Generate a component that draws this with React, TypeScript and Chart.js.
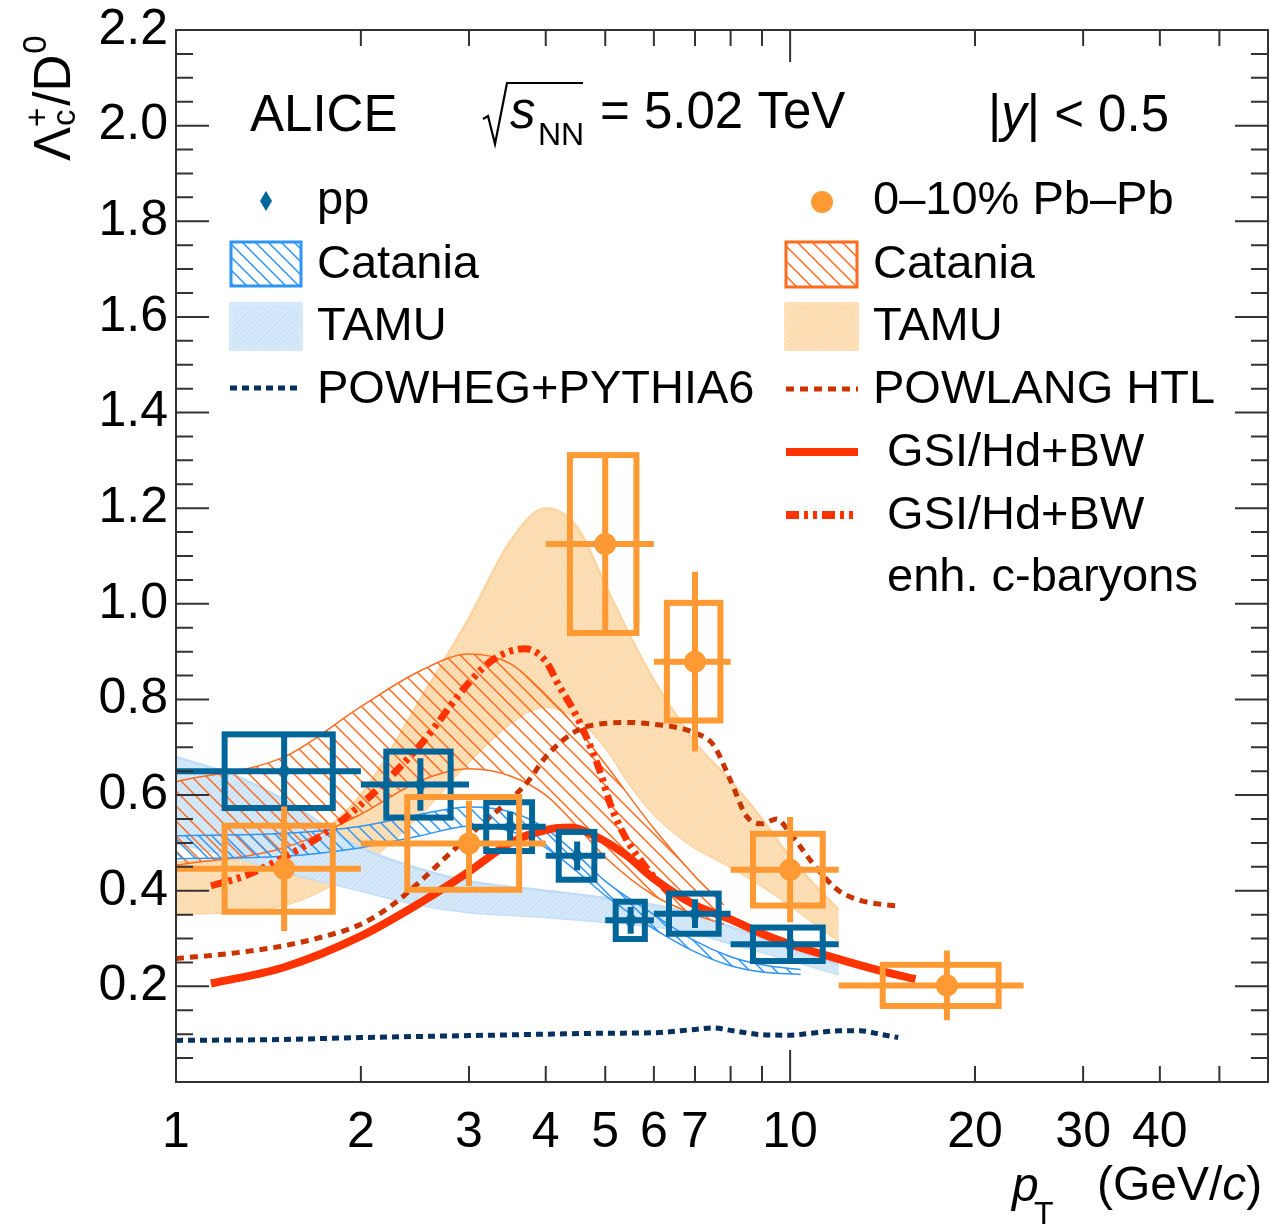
import React, { useEffect, useRef } from 'react';
import { Chart, registerables } from 'chart.js';

Chart.register(...registerables);

const FONT = '"Liberation Sans", Arial, Helvetica, sans-serif';

// ---- axis ticks ----
const xTickValues = [1, 2, 3, 4, 5, 6, 7, 8, 9, 10, 20, 30, 40, 50];
const xLabelValues = [1, 2, 3, 4, 5, 6, 7, 10, 20, 30, 40];
const yTickValues = [0, 0.2, 0.4, 0.6, 0.8, 1.0, 1.2, 1.4, 1.6, 1.8, 2.0, 2.2];

// ---- pp data ----
const ppX = [1.5, 2.5, 3.5, 4.5, 5.5, 7, 10];
const ppXLow = [1, 2, 3, 4, 5, 6, 8];
const ppXHigh = [2, 3, 4, 5, 6, 8, 12];
const ppY = [0.65, 0.622, 0.534, 0.473, 0.338, 0.352, 0.288];
const ppStat = [0.078, 0.055, 0.031, 0.03, 0.028, 0.03, 0.04];
const ppSyst = [0.077, 0.069, 0.051, 0.05, 0.039, 0.042, 0.035];
const ppSystHalfWidth = [0.3, 0.3, 0.3, 0.3, 0.3, 0.65, 1.3];

// ---- 0-10% Pb-Pb data ----
const pbX = [1.5, 3, 5, 7, 10, 18];
const pbXLow = [1, 2, 4, 6, 8, 12];
const pbXHigh = [2, 4, 6, 8, 12, 24];
const pbY = [0.446, 0.499, 1.125, 0.879, 0.444, 0.202];
const pbStat = [0.13, 0.089, 0.19, 0.188, 0.11, 0.073];
const pbSyst = [0.09, 0.097, 0.186, 0.123, 0.075, 0.043];
const pbSystHalfWidth = [0.3, 0.62, 0.62, 0.7, 1.3, 3.85];

// ---- models ----
const catPPX = [1, 1.5, 2, 2.5, 3, 3.5, 4, 4.5, 5, 6, 7, 8, 9, 10.4];
const catPPUp = [0.515, 0.52, 0.535, 0.56, 0.575, 0.565, 0.53, 0.475, 0.42, 0.35, 0.295, 0.262, 0.245, 0.235];
const catPPLo = [0.467, 0.472, 0.49, 0.515, 0.535, 0.525, 0.49, 0.44, 0.39, 0.32, 0.272, 0.243, 0.23, 0.225];

const catPbX = [1, 1.5, 2, 2.5, 3, 3.5, 4, 4.5, 5, 6, 7, 7.8];
const catPbUp = [0.628, 0.68, 0.785, 0.86, 0.895, 0.875, 0.81, 0.74, 0.665, 0.53, 0.43, 0.37];
const catPbLo = [0.453, 0.49, 0.56, 0.63, 0.655, 0.64, 0.6, 0.535, 0.47, 0.39, 0.35, 0.33];

const tamuPPX = [1, 1.25, 1.5, 2, 2.5, 3, 4, 5, 6, 7, 8, 10, 12];
const tamuPPUp = [0.68, 0.64, 0.59, 0.49, 0.445, 0.42, 0.4, 0.385, 0.37, 0.35, 0.325, 0.28, 0.245];
const tamuPPLo = [0.5, 0.47, 0.44, 0.4, 0.37, 0.355, 0.345, 0.335, 0.325, 0.31, 0.29, 0.255, 0.225];

const tamuPbX = [1, 1.5, 2, 2.5, 3, 3.5, 4, 4.5, 5, 5.5, 6, 6.5, 7, 8, 9, 10, 11, 12];
const tamuPbUp = [0.46, 0.48, 0.6, 0.8, 0.97, 1.13, 1.2, 1.16, 1.04, 0.93, 0.84, 0.77, 0.71, 0.63, 0.55, 0.47, 0.41, 0.36];
const tamuPbLo = [0.35, 0.37, 0.45, 0.56, 0.67, 0.75, 0.785, 0.76, 0.7, 0.62, 0.56, 0.52, 0.49, 0.45, 0.41, 0.37, 0.33, 0.295];

const powhegX = [1, 1.5, 2, 3, 4, 5, 6, 7, 7.5, 8, 9, 10, 11, 12, 13, 14, 15];
const powhegY = [0.087, 0.089, 0.093, 0.097, 0.1, 0.102, 0.103, 0.11, 0.113, 0.108, 0.099, 0.098, 0.103, 0.107, 0.107, 0.1, 0.093];

const powlangX = [1, 1.25, 1.5, 1.75, 2, 2.25, 2.5, 2.75, 3, 3.25, 3.5, 3.75, 4, 4.5, 5, 5.5, 6, 6.5, 7, 7.5, 8, 8.5, 9, 9.5, 10, 11, 12, 13, 14, 15];
const powlangY = [0.258, 0.27, 0.285, 0.305, 0.33, 0.37, 0.42, 0.47, 0.515, 0.555, 0.59, 0.63, 0.68, 0.735, 0.75, 0.752, 0.748, 0.742, 0.73, 0.705, 0.63, 0.555, 0.54, 0.55, 0.52, 0.45, 0.4, 0.38, 0.372, 0.368];

const gsiX = [1.14, 1.5, 2, 2.5, 3, 3.5, 4, 4.4, 4.8, 5.4, 6, 7, 8, 9, 10, 12, 14, 16];
const gsiY = [0.206, 0.24, 0.305, 0.375, 0.44, 0.5, 0.527, 0.532, 0.515, 0.475, 0.425, 0.37, 0.34, 0.31, 0.288, 0.257, 0.233, 0.215];

const gsiEnhX = [1.14, 1.3, 1.5, 1.7, 2, 2.5, 3, 3.3, 3.7, 4, 4.2, 4.45, 4.7, 4.9, 5.1, 5.4, 5.85, 6.4];
const gsiEnhY = [0.41, 0.432, 0.47, 0.51, 0.58, 0.705, 0.835, 0.885, 0.906, 0.88, 0.83, 0.775, 0.71, 0.65, 0.58, 0.51, 0.446, 0.39];

// ---- texts ----
const legendLeft = ['pp', 'Catania', 'TAMU', 'POWHEG+PYTHIA6'];
const legendRight = ['0\u201310% Pb\u2013Pb', 'Catania', 'TAMU', 'POWLANG HTL', 'GSI/Hd+BW', 'GSI/Hd+BW', 'enh. c-baryons'];

// ---- colours ----
const C_PP = '#006699';
const C_PB = '#ff9933';
const C_CAT_PP = '#2e95f5';
const C_CAT_PB = '#ff6b1f';
const C_TAMU_PP = '#d5e9fb';
const C_TAMU_PP_L = '#c0ddf8';
const C_TAMU_PB = '#fee0b8';
const C_TAMU_PB_L = '#fdd3a0';
const C_POWHEG = '#06305e';
const C_POWLANG = '#c93400';
const C_GSI = '#ff3300';

const DASH_POWHEG = [7, 5];
const DASH_POWLANG = [8, 6];
const DASH_GSI_ENH = [13, 5, 4, 5, 4, 5];

function f(size: number, italic = false) {
  return `${italic ? 'italic ' : ''}${size}px ${FONT}`;
}

function makeHatch(bg: string | null, line: string, size: number, lw: number, back: boolean) {
  const c = document.createElement('canvas');
  c.width = size;
  c.height = size;
  const g = c.getContext('2d')!;
  if (bg) {
    g.fillStyle = bg;
    g.fillRect(0, 0, size, size);
  }
  g.strokeStyle = line;
  g.lineWidth = lw;
  g.beginPath();
  for (let k = -1; k <= 1; k++) {
    if (back) {
      g.moveTo(-2, -2 + k * size);
      g.lineTo(size + 2, size + 2 + k * size);
    } else {
      g.moveTo(-2, size + 2 + k * size);
      g.lineTo(size + 2, -2 + k * size);
    }
  }
  g.stroke();
  return g.createPattern(c, 'repeat') as CanvasPattern;
}

function drawErrors(chart: any, xs: number[], lo: number[], hi: number[], ys: number[], stat: number[], syst: number[], hw: number[], color: string) {
  const { ctx, scales } = chart;
  const sx = scales.x;
  const sy = scales.y;
  const area = chart.chartArea;
  ctx.save();
  ctx.beginPath();
  ctx.rect(area.left, area.top, area.right - area.left, area.bottom - area.top);
  ctx.clip();
  ctx.strokeStyle = color;
  ctx.lineWidth = 6;
  ctx.lineCap = 'butt';
  for (let i = 0; i < xs.length; i++) {
    const px = sx.getPixelForValue(xs[i]);
    const py = sy.getPixelForValue(ys[i]);
    const bx0 = sx.getPixelForValue(xs[i] - hw[i]);
    const bx1 = sx.getPixelForValue(xs[i] + hw[i]);
    const by0 = sy.getPixelForValue(ys[i] + syst[i]);
    const by1 = sy.getPixelForValue(ys[i] - syst[i]);
    ctx.strokeRect(bx0, by0, bx1 - bx0, by1 - by0);
    ctx.beginPath();
    ctx.moveTo(sx.getPixelForValue(lo[i]), py);
    ctx.lineTo(sx.getPixelForValue(hi[i]), py);
    ctx.moveTo(px, sy.getPixelForValue(ys[i] + stat[i]));
    ctx.lineTo(px, sy.getPixelForValue(ys[i] - stat[i]));
    ctx.stroke();
  }
  ctx.restore();
}

export default function App() {
  const canvasRef = useRef<HTMLCanvasElement | null>(null);

  useEffect(() => {
    const canvas = canvasRef.current;
    if (!canvas) return;

    const catPPPat = makeHatch(null, C_CAT_PP, 13, 1.5, true);
    const catPbPat = makeHatch(null, C_CAT_PB, 15, 1.5, true);
    const tamuPPPat = makeHatch(C_TAMU_PP, C_TAMU_PP_L, 5, 1, false);
    const tamuPbPat = makeHatch(C_TAMU_PB, C_TAMU_PB_L, 5, 1, false);

    const diamond = document.createElement('canvas');
    diamond.width = 14;
    diamond.height = 20;
    {
      const g = diamond.getContext('2d')!;
      g.fillStyle = C_PP;
      g.beginPath();
      g.moveTo(7, 0);
      g.lineTo(13, 10);
      g.lineTo(7, 20);
      g.lineTo(1, 10);
      g.closePath();
      g.fill();
    }

    const pts = (xs: number[], ys: number[]) => xs.map((x, i) => ({ x, y: ys[i] }));
    const lineDs = (label: string, xs: number[], ys: number[], color: string, width: number, dash: number[], order: number) => ({
      label,
      data: pts(xs, ys),
      borderColor: color,
      borderWidth: width,
      borderDash: dash,
      borderCapStyle: 'butt',
      pointRadius: 0,
      fill: false,
      cubicInterpolationMode: 'monotone',
      order,
    });
    const bandUp = (label: string, xs: number[], ys: number[], border: string, bw: number, pattern: CanvasPattern, order: number) => ({
      label,
      data: pts(xs, ys),
      borderColor: border,
      borderWidth: bw,
      backgroundColor: pattern,
      pointRadius: 0,
      fill: '+1',
      cubicInterpolationMode: 'monotone',
      order,
    });
    const bandLo = (label: string, xs: number[], ys: number[], border: string, bw: number, order: number) => ({
      label,
      data: pts(xs, ys),
      borderColor: border,
      borderWidth: bw,
      pointRadius: 0,
      fill: false,
      cubicInterpolationMode: 'monotone',
      order,
    });

    const datasets: any[] = [
      {
        label: 'Pb-Pb',
        data: pts(pbX, pbY),
        showLine: false,
        pointStyle: 'circle',
        pointRadius: 11,
        pointBackgroundColor: C_PB,
        pointBorderWidth: 0,
        order: 0,
      },
      {
        label: 'pp',
        data: pts(ppX, ppY),
        showLine: false,
        pointStyle: diamond,
        pointRadius: 8,
        order: 1,
      },
      lineDs('GSI enh', gsiEnhX, gsiEnhY, C_GSI, 7, DASH_GSI_ENH, 2),
      lineDs('GSI', gsiX, gsiY, C_GSI, 8, [], 2),
      lineDs('POWLANG', powlangX, powlangY, C_POWLANG, 5, DASH_POWLANG, 2),
      lineDs('POWHEG', powhegX, powhegY, C_POWHEG, 5, DASH_POWHEG, 2),
      bandUp('Catania pp', catPPX, catPPUp, C_CAT_PP, 1.5, catPPPat, 4),
      bandLo('Catania pp lo', catPPX, catPPLo, C_CAT_PP, 1.5, 4),
      bandUp('Catania PbPb', catPbX, catPbUp, C_CAT_PB, 1.5, catPbPat, 5),
      bandLo('Catania PbPb lo', catPbX, catPbLo, C_CAT_PB, 1.5, 5),
      bandUp('TAMU pp', tamuPPX, tamuPPUp, C_TAMU_PP_L, 2.5, tamuPPPat, 6),
      bandLo('TAMU pp lo', tamuPPX, tamuPPLo, C_TAMU_PP_L, 2.5, 6),
      bandUp('TAMU PbPb', tamuPbX, tamuPbUp, C_TAMU_PB_L, 2.5, tamuPbPat, 7),
      bandLo('TAMU PbPb lo', tamuPbX, tamuPbLo, C_TAMU_PB_L, 2.5, 7),
    ];

    const errPlugin = {
      id: 'errbars',
      beforeDatasetDraw(chart: any, args: any) {
        if (args.index === 1) {
          drawErrors(chart, ppX, ppXLow, ppXHigh, ppY, ppStat, ppSyst, ppSystHalfWidth, C_PP);
        } else if (args.index === 0) {
          drawErrors(chart, pbX, pbXLow, pbXHigh, pbY, pbStat, pbSyst, pbSystHalfWidth, C_PB);
        }
      },
    };

    const framePlugin = {
      id: 'frame',
      afterDatasetsDraw(chart: any) {
        const { ctx, chartArea, scales } = chart;
        const { left, right, top, bottom } = chartArea;
        ctx.save();
        ctx.strokeStyle = '#333';
        ctx.lineWidth = 2;
        ctx.strokeRect(left, top, right - left, bottom - top);
        ctx.beginPath();
        for (const v of xTickValues) {
          const px = scales.x.getPixelForValue(v);
          const len = v === 1 || v === 10 ? 32 : 16;
          ctx.moveTo(px, bottom);
          ctx.lineTo(px, bottom - len);
          ctx.moveTo(px, top);
          ctx.lineTo(px, top + len);
        }
        for (let k = 0; k <= 44; k++) {
          const py = scales.y.getPixelForValue(k * 0.05);
          const len = k % 4 === 0 ? 33 : 17;
          ctx.moveTo(left, py);
          ctx.lineTo(left + len, py);
          ctx.moveTo(right, py);
          ctx.lineTo(right - len, py);
        }
        ctx.stroke();
        ctx.restore();
      },
    };

    const annotPlugin = {
      id: 'annot',
      afterDraw(chart: any) {
        const ctx = chart.ctx as CanvasRenderingContext2D;
        ctx.save();
        ctx.fillStyle = '#000';
        ctx.strokeStyle = '#000';
        ctx.textAlign = 'left';
        ctx.textBaseline = 'alphabetic';

        // header
        ctx.font = f(51);
        ctx.fillText('ALICE', 250, 131);
        ctx.lineWidth = 2.2;
        ctx.beginPath();
        ctx.moveTo(483, 119);
        ctx.lineTo(488, 116);
        ctx.lineTo(495, 144);
        ctx.lineTo(507, 83);
        ctx.lineTo(583, 83);
        ctx.stroke();
        ctx.font = f(51, true);
        ctx.fillText('s', 510, 128);
        ctx.font = f(32);
        ctx.fillText('NN', 538, 145);
        ctx.font = f(51);
        ctx.fillText('= 5.02 TeV', 600, 128);
        let xx = 988;
        ctx.font = f(51);
        ctx.fillText('|', xx, 131);
        xx += ctx.measureText('|').width;
        ctx.font = f(51, true);
        ctx.fillText('y', xx, 131);
        xx += ctx.measureText('y').width;
        ctx.font = f(51);
        ctx.fillText('| < 0.5', xx, 131);

        // legend texts
        const baselines = [214, 278, 340, 403, 466, 529, 591];
        ctx.font = f(47);
        legendLeft.forEach((t, i) => ctx.fillText(t, 317, baselines[i]));
        legendRight.forEach((t, i) => ctx.fillText(t, i >= 4 ? 887 : 873, baselines[i]));

        // legend symbols - left
        ctx.drawImage(diamond, 266 - 7, 201 - 10);
        ctx.fillStyle = catPPPat;
        ctx.fillRect(231, 242, 70, 44);
        ctx.lineWidth = 3;
        ctx.strokeStyle = C_CAT_PP;
        ctx.strokeRect(231, 242, 70, 44);
        ctx.fillStyle = tamuPPPat;
        ctx.fillRect(231, 304, 70, 45);
        ctx.lineJoin = 'round';
        ctx.strokeStyle = C_TAMU_PP;
        ctx.lineWidth = 4;
        ctx.strokeRect(231, 304, 70, 45);
        ctx.lineJoin = 'miter';
        ctx.setLineDash(DASH_POWHEG);
        ctx.lineWidth = 5;
        ctx.strokeStyle = C_POWHEG;
        ctx.beginPath();
        ctx.moveTo(230, 388);
        ctx.lineTo(302, 388);
        ctx.stroke();
        ctx.setLineDash([]);

        // legend symbols - right
        ctx.fillStyle = C_PB;
        ctx.beginPath();
        ctx.arc(822, 202, 11, 0, Math.PI * 2);
        ctx.fill();
        ctx.fillStyle = catPbPat;
        ctx.fillRect(786, 242, 71, 45);
        ctx.lineWidth = 3;
        ctx.strokeStyle = C_CAT_PB;
        ctx.strokeRect(786, 242, 71, 45);
        ctx.fillStyle = tamuPbPat;
        ctx.fillRect(786, 304, 71, 45);
        ctx.lineJoin = 'round';
        ctx.strokeStyle = C_TAMU_PB;
        ctx.lineWidth = 4;
        ctx.strokeRect(786, 304, 71, 45);
        ctx.lineJoin = 'miter';
        ctx.setLineDash(DASH_POWLANG);
        ctx.lineWidth = 5;
        ctx.strokeStyle = C_POWLANG;
        ctx.beginPath();
        ctx.moveTo(786, 389);
        ctx.lineTo(858, 389);
        ctx.stroke();
        ctx.setLineDash([]);
        ctx.lineWidth = 8;
        ctx.strokeStyle = C_GSI;
        ctx.beginPath();
        ctx.moveTo(786, 452);
        ctx.lineTo(858, 452);
        ctx.stroke();
        ctx.setLineDash(DASH_GSI_ENH);
        ctx.beginPath();
        ctx.moveTo(786, 515);
        ctx.lineTo(856, 515);
        ctx.stroke();
        ctx.setLineDash([]);

        // x-axis title
        ctx.fillStyle = '#000';
        ctx.font = f(48, true);
        ctx.fillText('p', 1012, 1201);
        ctx.font = f(32);
        ctx.fillText('T', 1034, 1224);
        let tx = 1097;
        ctx.font = f(48);
        ctx.fillText('(GeV/', tx, 1200);
        tx += ctx.measureText('(GeV/').width;
        ctx.font = f(48, true);
        ctx.fillText('c', tx, 1200);
        tx += ctx.measureText('c').width;
        ctx.font = f(48);
        ctx.fillText(')', tx, 1200);

        // y-axis title (rotated)
        ctx.save();
        ctx.translate(70, 161);
        ctx.rotate(-Math.PI / 2);
        ctx.font = f(51);
        ctx.fillText('\u039B', 0, 0);
        let u = ctx.measureText('\u039B').width;
        ctx.font = f(33);
        ctx.fillText('c', u + 1, 5);
        ctx.fillText('+', u, -22);
        u += Math.max(ctx.measureText('c').width, ctx.measureText('+').width) + 2;
        ctx.font = f(51);
        ctx.fillText('/D', u, 0);
        u += ctx.measureText('/D').width;
        ctx.font = f(33);
        ctx.fillText('0', u + 1, -24);
        ctx.restore();

        ctx.restore();
      },
    };

    const zeroPad = (scale: any) => {
      scale.paddingTop = 0;
      scale.paddingBottom = 0;
      scale.paddingLeft = 0;
      scale.paddingRight = 0;
    };

    const chart = new Chart(canvas, {
      type: 'line',
      data: { datasets },
      options: {
        responsive: false,
        maintainAspectRatio: false,
        animation: false,
        events: [],
        layout: { autoPadding: false, padding: { left: 8, right: 2, top: 30, bottom: 0 } },
        plugins: {
          legend: { display: false },
          tooltip: { enabled: false },
        },
        scales: {
          x: {
            type: 'logarithmic',
            min: 1,
            max: 60,
            grid: { display: false, drawTicks: false },
            border: { display: false },
            afterBuildTicks: (scale: any) => {
              scale.ticks = xTickValues.map((v) => ({ value: v }));
            },
            afterFit: (scale: any) => {
              scale.height = 144;
              zeroPad(scale);
            },
            ticks: {
              autoSkip: false,
              maxRotation: 0,
              minRotation: 0,
              padding: 21,
              color: '#000',
              font: { family: FONT, size: 50 },
              callback: (v: any) => (xLabelValues.includes(Number(v)) ? String(v) : ''),
            },
          },
          y: {
            type: 'linear',
            min: 0,
            max: 2.2,
            grid: { display: false, drawTicks: false },
            border: { display: false },
            afterBuildTicks: (scale: any) => {
              scale.ticks = yTickValues.map((v) => ({ value: v }));
            },
            afterFit: (scale: any) => {
              scale.width = 168;
              zeroPad(scale);
            },
            ticks: {
              padding: 8,
              color: '#000',
              font: { family: FONT, size: 50 },
              callback: (v: any) => (Number(v) === 0 ? '' : Number(v).toFixed(1)),
            },
          },
        },
      } as any,
      plugins: [errPlugin, framePlugin, annotPlugin],
    });

    return () => chart.destroy();
  }, []);

  return (
    <div style={{ position: 'absolute', left: 0, top: 0, width: 1270, height: 1226, background: '#fff' }}>
      <canvas ref={canvasRef} width={1270} height={1226} style={{ width: 1270, height: 1226, display: 'block' }} />
    </div>
  );
}
